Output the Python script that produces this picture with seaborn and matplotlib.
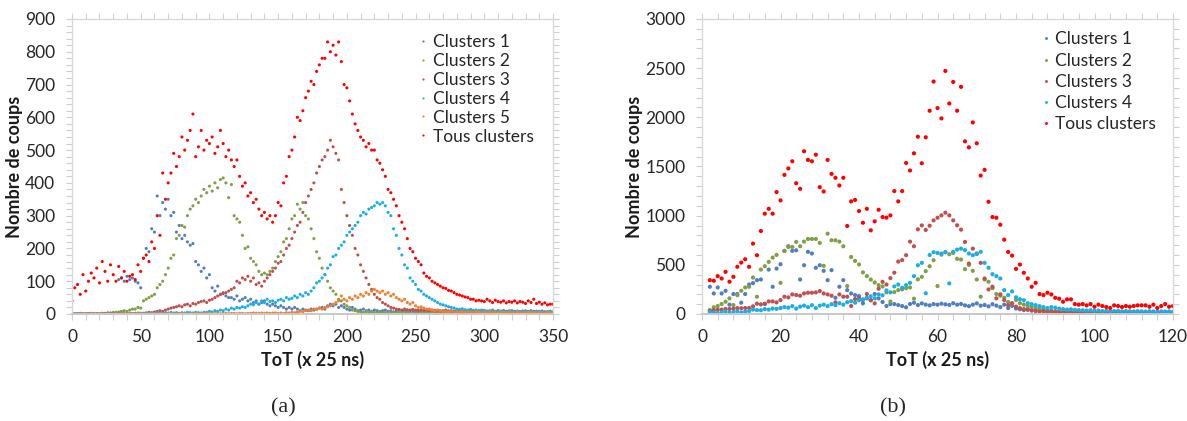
import matplotlib

matplotlib.use("Agg")
import matplotlib.pyplot as plt
import pandas as pd
import seaborn as sns
from matplotlib.ticker import MultipleLocator

# ---------------- (a) : ToT de 0 a 350, un point tous les 2 ----------------
tot_a = list(range(0, 351, 2))

clusters1_a = [
    0, 1, 0, 2, 1, 0, 1, 2, 1, 0,
    1, 2, 1, 3, 2, 2, 3, 105, 110, 100,
    115, 105, 110, 100, 95, 80, 170, 200, 190, 260,
    250, 360, 300, 340, 320, 350, 300, 310, 250, 270,
    230, 240, 220, 210, 215, 160, 150, 130, 140, 110,
    120, 80, 70, 85, 60, 65, 55, 50, 50, 45,
    55, 40, 45, 50, 40, 45, 35, 40, 30, 35,
    40, 30, 25, 30, 25, 20, 25, 20, 15, 20,
    15, 20, 15, 10, 15, 12, 10, 15, 12, 15,
    18, 20, 15, 25, 30, 25, 30, 20, 25, 20,
    15, 12, 20, 15, 10, 12, 15, 10, 12, 8,
    12, 10, 8, 10, 12, 8, 10, 6, 9, 12,
    8, 10, 7, 12, 9, 8, 11, 7, 10, 8,
    6, 9, 11, 7, 8, 10, 6, 9, 7, 8,
    10, 6, 8, 9, 7, 11, 6, 8, 10, 7,
    9, 6, 8, 10, 7, 8, 6, 9, 7, 8,
    10, 6, 8, 7, 9, 6, 8, 10, 7, 6,
    8, 9, 6, 7, 8, 6,
]
clusters2_a = [
    0, 0, 1, 0, 1, 0, 1, 1, 0, 1,
    1, 2, 2, 3, 3, 5, 5, 6, 8, 10,
    8, 12, 15, 15, 20, 18, 40, 45, 50, 55,
    60, 80, 90, 100, 120, 140, 170, 180, 230, 240,
    270, 265, 300, 320, 330, 350, 340, 360, 380, 370,
    390, 375, 400, 385, 410, 415, 400, 355, 395, 300,
    290, 280, 240, 200, 205, 170, 160, 150, 130, 120,
    125, 120, 130, 140, 160, 175, 190, 220, 230, 260,
    290, 300, 335, 320, 340, 300, 290, 260, 230, 190,
    170, 140, 120, 100, 80, 70, 60, 45, 40, 30,
    25, 20, 12, 10, 8, 6, 5, 7, 4, 6,
    5, 3, 6, 4, 5, 3, 4, 6, 3, 5,
    4, 3, 5, 4, 2, 5, 3, 4, 3, 5,
    4, 2, 3, 5, 3, 4, 2, 3, 4, 3,
    5, 3, 2, 4, 3, 5, 2, 4, 3, 2,
    4, 3, 5, 2, 3, 4, 2, 3, 5, 3,
    2, 4, 3, 2, 5, 3, 4, 2, 3, 4,
    3, 2, 4, 3, 2, 3,
]
clusters3_a = [
    0, 1, 0, 0, 1, 0, 1, 0, 0, 1,
    0, 1, 1, 0, 2, 1, 0, 1, 2, 1,
    1, 2, 1, 2, 3, 2, 2, 3, 5, 4,
    6, 8, 10, 8, 12, 15, 18, 20, 22, 25,
    22, 28, 30, 25, 32, 30, 35, 38, 40, 35,
    42, 45, 50, 55, 60, 62, 65, 70, 75, 80,
    100, 95, 110, 105, 115, 100, 110, 90, 95, 85,
    100, 110, 120, 130, 140, 155, 160, 180, 200, 210,
    230, 250, 270, 280, 310, 340, 360, 380, 400, 430,
    450, 470, 480, 500, 530, 510, 490, 470, 380, 340,
    300, 270, 240, 200, 180, 150, 130, 110, 90, 75,
    60, 50, 45, 35, 30, 25, 20, 18, 15, 14,
    12, 15, 13, 11, 14, 12, 10, 13, 11, 12,
    10, 12, 9, 11, 10, 8, 12, 9, 10, 8,
    9, 11, 8, 10, 7, 9, 8, 10, 7, 9,
    8, 6, 9, 7, 8, 10, 6, 8, 7, 9,
    6, 8, 7, 5, 8, 6, 7, 5, 8, 6,
    5, 7, 6, 5, 6, 5,
]
clusters4_a = [
    0, 0, 1, 0, 0, 1, 0, 0, 1, 0,
    0, 1, 0, 0, 1, 0, 1, 0, 0, 1,
    0, 1, 1, 0, 1, 2, 2, 3, 2, 3,
    2, 4, 3, 2, 4, 3, 5, 3, 4, 2,
    4, 3, 5, 4, 3, 5, 4, 3, 5, 5,
    8, 6, 10, 8, 12, 10, 15, 12, 18, 15,
    20, 18, 22, 20, 25, 30, 28, 35, 30, 40,
    35, 45, 38, 40, 35, 42, 45, 40, 50, 45,
    48, 55, 50, 60, 55, 65, 60, 70, 80, 95,
    100, 110, 120, 140, 150, 175, 180, 200, 210, 220,
    240, 250, 260, 270, 280, 300, 310, 305, 320, 325,
    330, 340, 335, 340, 330, 310, 300, 260, 240, 200,
    180, 150, 140, 110, 100, 90, 75, 70, 60, 55,
    50, 45, 40, 35, 30, 28, 25, 22, 20, 18,
    15, 14, 16, 13, 12, 14, 11, 12, 10, 12,
    11, 9, 10, 12, 8, 10, 9, 11, 8, 9,
    10, 8, 9, 7, 8, 10, 7, 8, 6, 9,
    7, 8, 6, 7, 8, 6,
]
clusters5_a = [
    0, 1, 0, 0, 1, 0, 0, 1, 0, 0,
    1, 0, 0, 1, 0, 0, 1, 0, 1, 0,
    0, 1, 0, 0, 1, 1, 0, 1, 0, 1,
    1, 0, 1, 1, 0, 1, 1, 0, 1, 1,
    1, 1, 0, 1, 1, 2, 1, 1, 2, 1,
    2, 1, 1, 2, 1, 2, 2, 1, 2, 2,
    1, 2, 2, 1, 2, 2, 3, 2, 2, 3,
    2, 3, 2, 3, 3, 2, 3, 2, 4, 3,
    5, 4, 6, 8, 7, 10, 12, 10, 15, 14,
    18, 15, 20, 22, 25, 30, 35, 40, 55, 45,
    40, 50, 45, 55, 50, 60, 55, 65, 60, 70,
    75, 70, 65, 70, 60, 65, 55, 60, 50, 45,
    40, 45, 35, 30, 35, 25, 20, 22, 18, 15,
    15, 12, 10, 12, 10, 8, 8, 7, 9, 6,
    7, 6, 8, 5, 7, 6, 5, 7, 6, 5,
    6, 5, 7, 5, 6, 4, 6, 5, 4, 6,
    5, 4, 6, 5, 4, 5, 6, 4, 5, 4,
    5, 4, 3, 5, 4, 4,
]
tous_a = [
    40, 80, 90, 60, 120, 70, 100, 125, 110, 140,
    95, 160, 130, 100, 150, 120, 100, 145, 110, 130,
    100, 115, 120, 105, 150, 130, 170, 180, 160, 220,
    200, 300, 240, 430, 350, 400, 430, 490, 450, 480,
    540, 500, 530, 560, 610, 480, 510, 560, 500, 530,
    520, 540, 490, 510, 560, 520, 480, 500, 470, 450,
    470, 420, 390, 400, 360, 370, 340, 350, 320, 300,
    310, 290, 300, 280, 300, 340, 330, 400, 420, 480,
    500, 540, 600, 590, 620, 660, 680, 710, 700, 740,
    760, 780, 780, 830, 800, 820, 790, 830, 770, 700,
    690, 650, 610, 580, 560, 540, 530, 510, 520, 500,
    500, 470, 460, 440, 420, 380, 370, 350, 330, 300,
    280, 260, 230, 200, 190, 170, 160, 150, 125, 115,
    110, 100, 95, 90, 85, 80, 78, 72, 70, 65,
    60, 58, 55, 52, 50, 45, 45, 40, 42, 40,
    38, 45, 40, 35, 42, 38, 36, 40, 34, 38,
    36, 40, 34, 38, 36, 32, 40, 35, 45, 32,
    36, 30, 34, 28, 30, 30,
]

# ---------------- (b) : ToT de 2 a 120 ----------------
tot_b = list(range(2, 121))

clusters1_b = [
    277, 209, 270, 209, 236, 95, 203, 203, 115, 203,
    300, 314, 344, 351, 101, 452, 277, 462, 506, 642,
    689, 642, 648, 351, 496, 632, 615, 470, 496, 439,
    344, 446, 165, 277, 344, 243, 209, 192, 182, 108,
    159, 140, 203, 159, 122, 81, 101, 101, 91, 81,
    68, 101, 115, 91, 108, 95, 88, 101, 95, 105,
    98, 92, 110, 95, 102, 88, 80, 95, 108, 85,
    92, 78, 100, 85, 70, 95, 60, 82, 55, 48,
    40, 52, 35, 45, 30, 38, 25, 32, 22, 28,
    20, 25, 18, 22, 15, 20, 18, 16, 20, 15,
    18, 14, 17, 15, 19, 14, 16, 18, 15, 17,
    14, 16, 18, 15, 13, 17, 15, 16, 14,
]
clusters2_b = [
    40, 68, 81, 101, 125, 159, 91, 192, 236, 270,
    277, 371, 176, 452, 486, 530, 574, 601, 317, 642,
    682, 682, 733, 689, 736, 763, 763, 763, 723, 490,
    817, 750, 750, 736, 689, 284, 580, 540, 504, 423,
    385, 350, 321, 294, 280, 220, 126, 223, 243, 250,
    263, 270, 156, 352, 378, 436, 486, 547, 284, 604,
    628, 608, 621, 561, 554, 456, 500, 439, 351, 176,
    351, 328, 263, 203, 186, 166, 122, 108, 142, 110,
    95, 80, 75, 60, 55, 45, 40, 35, 30, 28,
    25, 22, 20, 18, 15, 14, 12, 13, 10, 11,
    9, 10, 8, 9, 7, 8, 9, 7, 8, 6,
    7, 8, 6, 7, 8, 6, 7, 5, 6,
]
clusters3_b = [
    30, 37, 44, 44, 51, 51, 54, 60, 58, 61,
    61, 78, 105, 98, 105, 128, 128, 118, 142, 176,
    169, 199, 193, 186, 209, 216, 216, 220, 233, 209,
    199, 186, 118, 199, 176, 176, 81, 152, 159, 142,
    203, 140, 108, 257, 327, 300, 365, 420, 533, 548,
    598, 736, 689, 861, 901, 855, 898, 952, 979, 1003,
    1030, 1003, 952, 902, 858, 733, 513, 665, 615, 520,
    361, 250, 277, 159, 200, 142, 91, 110, 75, 60,
    50, 42, 38, 30, 25, 28, 20, 22, 18, 15,
    14, 12, 13, 10, 12, 9, 11, 10, 8, 9,
    10, 8, 9, 7, 8, 9, 7, 8, 6, 7,
    8, 6, 7, 8, 6, 7, 5, 6, 7,
]
clusters4_b = [
    20, 15, 10, 18, 25, 14, 20, 28, 15, 25,
    30, 45, 40, 38, 50, 45, 55, 52, 60, 70,
    65, 80, 55, 75, 85, 70, 90, 60, 85, 95,
    80, 100, 90, 110, 95, 120, 130, 115, 140, 150,
    165, 180, 160, 200, 190, 240, 220, 280, 300, 267,
    294, 317, 385, 496, 520, 211, 600, 628, 621, 615,
    630, 311, 632, 655, 665, 650, 615, 598, 610, 632,
    520, 470, 405, 385, 361, 243, 192, 230, 170, 150,
    140, 110, 100, 90, 80, 70, 60, 70, 65, 55,
    50, 45, 48, 42, 40, 38, 35, 38, 32, 35,
    30, 33, 28, 30, 32, 27, 30, 28, 26, 29,
    27, 25, 28, 26, 24, 27, 25, 26, 24,
]
tous_b = [
    344, 338, 385, 361, 429, 328, 378, 480, 523, 557,
    480, 716, 598, 844, 1020, 1070, 1020, 1240, 1155, 1415,
    1480, 1553, 1330, 1273, 1655, 1567, 1553, 1620, 1290, 1246,
    1567, 1425, 1385, 1307, 1385, 895, 1145, 1160, 1047, 928,
    1070, 851, 942, 1060, 986, 980, 1003, 1250, 1145, 1250,
    1536, 1459, 1634, 1803, 1533, 1797, 2067, 2364, 2094, 1989,
    2472, 2141, 2360, 2067, 2310, 1756, 1695, 1948, 1736, 1408,
    1466, 1141, 986, 979, 908, 756, 631, 594, 459, 503,
    419, 361, 277, 317, 203, 192, 216, 199, 165, 155,
    125, 149, 149, 101, 95, 101, 88, 101, 74, 95,
    81, 71, 61, 88, 81, 71, 81, 74, 81, 88,
    88, 88, 74, 95, 61, 81, 101, 74, 81,
]

couleurs = {
    "Clusters 1": "#4F7FC0",
    "Clusters 2": "#7FA046",
    "Clusters 3": "#C0504D",
    "Clusters 4": "#1AAEE8",
    "Clusters 5": "#F08030",
    "Tous clusters": "#FF0000",
}


def tableau(x, series):
    morceaux = []
    for nom, vals in series.items():
        if len(vals) != len(x):
            raise ValueError(f"{nom}: {len(vals)} valeurs pour {len(x)} abscisses")
        morceaux.append(pd.DataFrame({"tot": x, "coups": vals, "serie": nom}))
    return pd.concat(morceaux, ignore_index=True)


df_a = tableau(tot_a, {
    "Clusters 1": clusters1_a,
    "Clusters 2": clusters2_a,
    "Clusters 3": clusters3_a,
    "Clusters 4": clusters4_a,
    "Clusters 5": clusters5_a,
    "Tous clusters": tous_a,
})
df_b = tableau(tot_b, {
    "Clusters 1": clusters1_b,
    "Clusters 2": clusters2_b,
    "Clusters 3": clusters3_b,
    "Clusters 4": clusters4_b,
    "Tous clusters": tous_b,
})

sns.set_style("white")
plt.rcParams["font.family"] = ["Lato", "DejaVu Sans"]

W, H = 1187, 421
fig = plt.figure(figsize=(W / 100, H / 100), dpi=100)
ax_a = fig.add_axes([72 / W, 107 / H, 481 / W, 295 / H])
ax_b = fig.add_axes([702 / W, 107 / H, 471 / W, 295 / H])


def habiller(ax, df, taille, xmax, ymax, xmaj, xmin, ymaj, ymin, leg_x, leg_y, espace):
    ordre = list(df["serie"].unique())
    sns.scatterplot(
        data=df, x="tot", y="coups", hue="serie", hue_order=ordre,
        palette=couleurs, s=taille, linewidth=0, ax=ax,
    )
    ax.set_xlim(0, xmax)
    ax.set_ylim(0, ymax)
    ax.xaxis.set_major_locator(MultipleLocator(xmaj))
    ax.xaxis.set_minor_locator(MultipleLocator(xmin))
    ax.yaxis.set_major_locator(MultipleLocator(ymaj))
    ax.yaxis.set_minor_locator(MultipleLocator(ymin))
    for sp in ax.spines.values():
        sp.set_visible(True)
        sp.set_color("#d9d9d9")
        sp.set_linewidth(1)
    ax.spines["bottom"].set_color("#c8c8c8")
    ax.spines["bottom"].set_linewidth(1.4)
    ax.tick_params(which="both", direction="out", color="#cfcfcf", width=0.8,
                   length=4, top=True, right=True, left=True, bottom=True,
                   labeltop=False, labelright=False)
    ax.tick_params(axis="x", which="major", labelsize=12.5, labelcolor="#262626", pad=6.5)
    ax.tick_params(axis="y", which="major", labelsize=12.5, labelcolor="#262626", pad=8)
    ax.set_xlabel("ToT (x 25 ns)", fontsize=13, fontweight="bold", color="#1a1a1a")
    ax.set_ylabel("Nombre de coups", fontsize=13, fontweight="bold", color="#1a1a1a")
    ax.xaxis.set_label_coords(0.5, -0.125)
    leg = ax.legend(loc="upper left", bbox_to_anchor=(leg_x, leg_y), frameon=False,
                    fontsize=12.5, handletextpad=0.25, labelspacing=espace,
                    borderaxespad=0, borderpad=0, handlelength=0.6, markerscale=0.7)
    for t in leg.get_texts():
        t.set_color("#262626")


habiller(ax_a, df_a, 5, 350, 900, 50, 10, 100, 20, 0.719, 0.95, 0.17)
ax_a.yaxis.set_label_coords(-0.102, 0.5)
habiller(ax_b, df_b, 9, 120, 3000, 20, 4, 500, 100, 0.719, 0.958, 0.3)
ax_b.yaxis.set_label_coords(-0.125, 0.5)

fig.text(283 / W, 1 - 408 / H, "(a)", ha="center", va="center",
         family="Liberation Serif", fontsize=16)
fig.text(893 / W, 1 - 408 / H, "(b)", ha="center", va="center",
         family="Liberation Serif", fontsize=16)

fig.savefig("out.png", dpi=100)
